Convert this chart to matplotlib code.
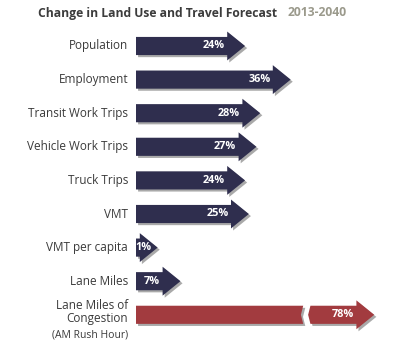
import matplotlib.pyplot as plt
from matplotlib.patches import Polygon
import matplotlib.patheffects as pe

# data
categories = ["Population", "Employment", "Transit Work Trips", "Vehicle Work Trips",
              "Truck Trips", "VMT", "VMT per capita", "Lane Miles",
              "Lane Miles of\nCongestion"]
values = [24, 36, 28, 27, 24, 25, 1, 7, 78]
labels = ["24%", "36%", "28%", "27%", "24%", "25%", "1%", "7%", "78%"]

navy = "#2f2e4e"
red = "#a23b3f"
text_col = "#3a3a3a"

# axis break for the long congestion arrow
cut_start = 44.0
cut_skip = 20.0
cut_gap = 1.3

head_len = 4.7     # in % units
body_h = 0.27
head_h = 0.43

plt.rcParams['font.family'] = ['Open Sans', 'DejaVu Sans']

fig = plt.figure(figsize=(4.0, 3.51), dpi=100)
ax = fig.add_axes([0, 0, 1, 1])
ax.set_xlim(-136 / 3.8, (400 - 136) / 3.8)
ax.set_ylim((351 - 46) / 33.6, -46 / 33.6)
ax.axis("off")

shadow = [pe.SimplePatchShadow(offset=(1.5, -1.5), shadow_rgbFace="#555555", alpha=0.5), pe.Normal()]


def arrow_pts(x0, x1, y, notch_left=False):
    head = [(x1, y - body_h), (x1, y - head_h), (x1 + head_len, y),
            (x1, y + head_h), (x1, y + body_h)]
    if notch_left:
        tail = [(x0 + 0.6, y + body_h), (x0, y), (x0 + 0.6, y - body_h)]
    else:
        tail = [(x0, y + body_h), (x0, y - body_h)]
    return tail + head


for i, (cat, v, lab) in enumerate(zip(categories, values, labels)):
    if v > cut_start + cut_skip:
        shown = v - cut_skip
        left = [(0, i - body_h), (cut_start, i - body_h), (cut_start - 0.6, i),
                (cut_start, i + body_h), (0, i + body_h)]
        ax.add_patch(Polygon(left, closed=True, fc=red, ec="none", path_effects=shadow))
        ax.add_patch(Polygon(arrow_pts(cut_start + cut_gap, shown, i, notch_left=True),
                             closed=True, fc=red, ec="none", path_effects=shadow))
    else:
        shown = v
        ax.add_patch(Polygon(arrow_pts(0, shown, i), closed=True, fc=navy, ec="none",
                             path_effects=shadow))
    ax.text(max(shown - 0.6, 4.2), i, lab, ha="right", va="center", color="white",
            fontsize=7.8, fontweight="bold")
    if "\n" in cat:
        ax.text(-2.1, i - 0.08, cat, ha="right", va="center", color=text_col,
                fontsize=8.5, linespacing=1.0)
        ax.text(-2.1, i + 0.6, "(AM Rush Hour)", ha="right", va="center",
                color=text_col, fontsize=7.5)
    else:
        ax.text(-2.1, i, cat, ha="right", va="center", color=text_col, fontsize=8.5)

fig.text(38 / 400, 1 - 13 / 351, "Change in Land Use and Travel Forecast", ha="left",
         va="center", fontsize=8.7, fontweight="bold", color="#3c3c3c")
fig.text(288 / 400, 1 - 13 / 351, "2013-2040", ha="left", va="center",
         fontsize=8.7, fontweight="bold", color="#9b9a8c")

fig.savefig("out.png", dpi=100)
